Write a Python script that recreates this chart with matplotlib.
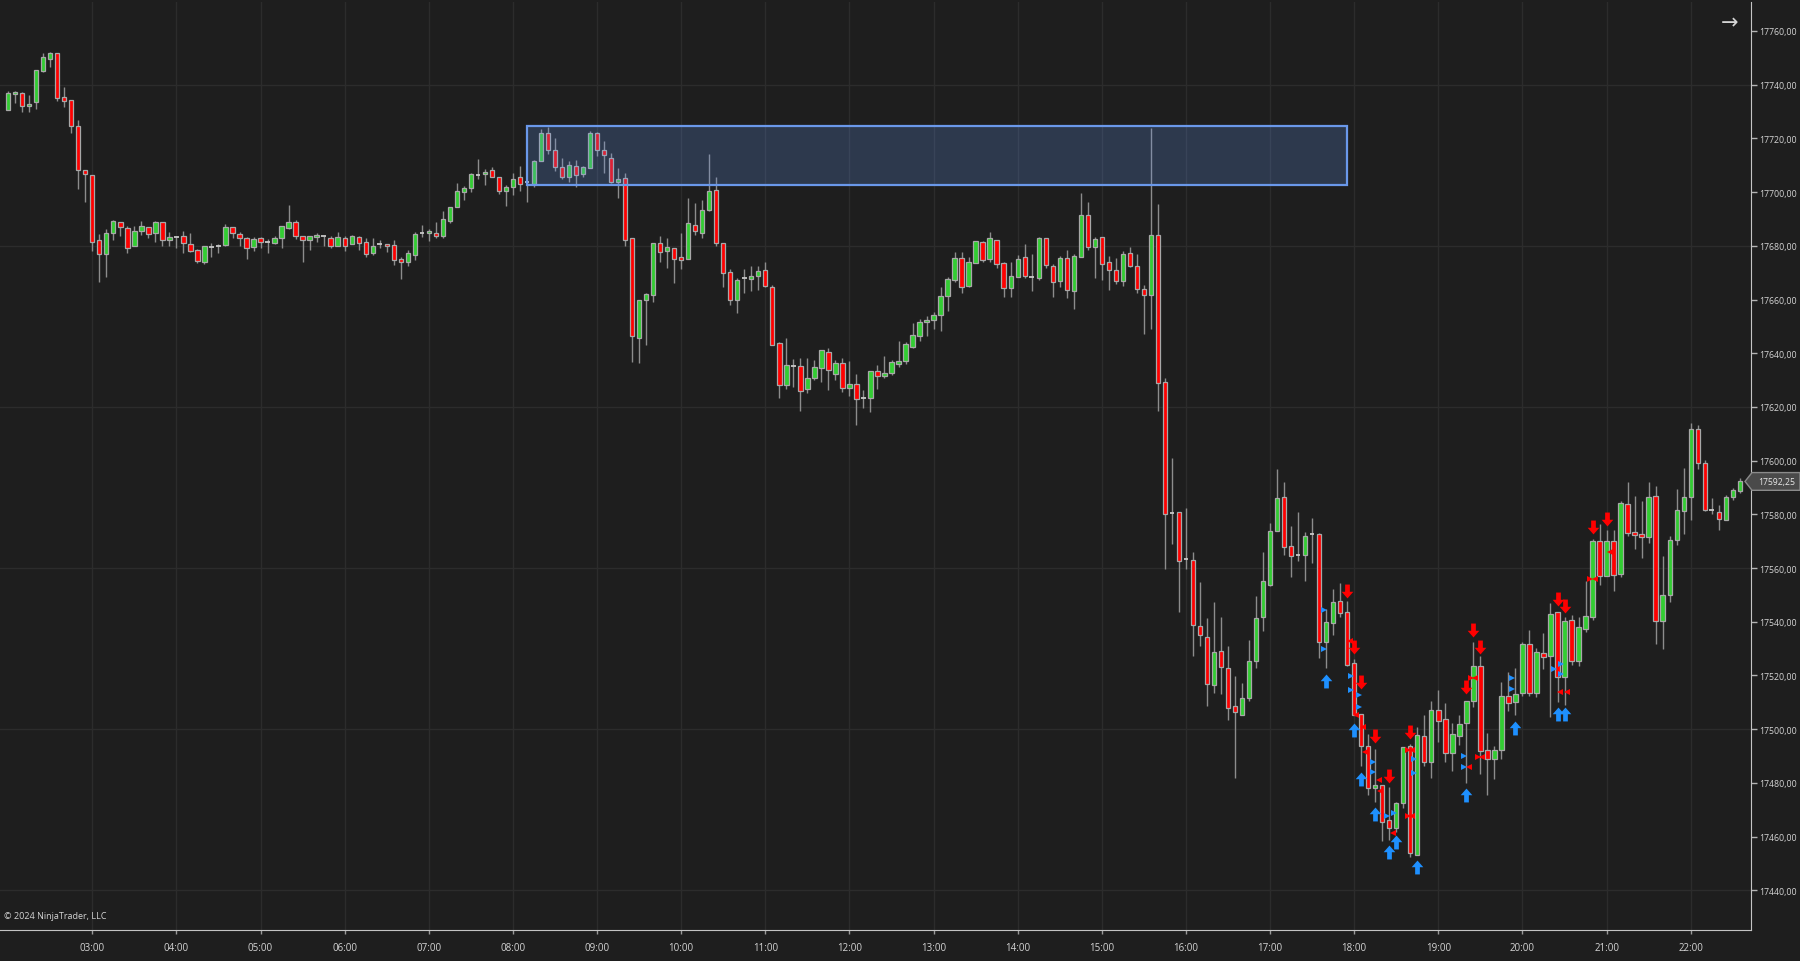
import numpy as np
import matplotlib.pyplot as plt
import matplotlib.transforms as mtransforms
from matplotlib.path import Path
from matplotlib.patches import Rectangle, Polygon

plt.rcParams['font.family'] = ['Open Sans', 'DejaVu Sans']

# 5 minute bars, bar 0 = 02:00
opens = [
    17730.6, 17736.5, 17736.8, 17731.9, 17733.5, 17745.0, 17749.4, 17751.8, 17735.3, 17734.3,
    17724.8, 17708.3, 17706.2, 17682.0, 17677.0, 17684.7, 17688.8, 17686.6, 17679.9, 17685.7,
    17686.9, 17684.7, 17689.0, 17682.0, 17683.2, 17683.6, 17680.7, 17678.5, 17674.1, 17679.7,
    17680.1, 17680.3, 17686.9, 17684.4, 17682.9, 17679.5, 17682.9, 17681.3, 17681.0, 17682.9,
    17686.5, 17689.0, 17683.8, 17682.0, 17683.2, 17683.6, 17683.0, 17680.1, 17682.8, 17680.7,
    17683.4, 17681.3, 17677.2, 17680.7, 17680.7, 17680.3, 17675.1, 17673.9, 17676.6, 17684.7,
    17684.7, 17684.7, 17683.6, 17689.4, 17694.6, 17700.2, 17701.6, 17706.5, 17706.8, 17708.3,
    17705.8, 17700.5, 17701.8, 17705.5, 17703.7, 17703.0, 17711.7, 17721.9, 17715.7, 17709.5,
    17705.8, 17709.6, 17706.8, 17708.9, 17721.9, 17715.7, 17712.7, 17703.7, 17705.2, 17683.0,
    17645.7, 17660.0, 17661.5, 17681.0, 17678.2, 17679.1, 17676.0, 17675.1, 17687.9, 17684.7,
    17693.4, 17700.9, 17681.0, 17670.2, 17660.0, 17668.0, 17667.7, 17668.7, 17671.0, 17664.8,
    17643.7, 17628.0, 17635.2, 17635.2, 17626.5, 17630.7, 17634.4, 17640.6, 17632.3, 17636.4,
    17627.1, 17628.6, 17623.4, 17623.2, 17633.3, 17631.7, 17632.5, 17636.0, 17637.0, 17642.5,
    17646.6, 17651.6, 17652.4, 17654.3, 17661.2, 17667.3, 17675.4, 17665.2, 17673.5, 17681.3,
    17675.1, 17682.3, 17673.6, 17664.3, 17668.5, 17676.0, 17668.3, 17667.9, 17682.8, 17672.6,
    17666.9, 17675.5, 17663.2, 17675.8, 17691.6, 17679.4, 17683.4, 17673.9, 17671.0, 17666.9,
    17677.4, 17672.6, 17664.0, 17661.8, 17683.9, 17629.3, 17580.6, 17581.0, 17563.4, 17562.9,
    17538.3, 17534.5, 17516.5, 17529.0, 17522.8, 17508.5, 17505.4, 17511.5, 17525.3, 17541.7,
    17553.8, 17573.9, 17586.4, 17568.1, 17564.9, 17565.0, 17572.5, 17572.7, 17532.6, 17539.6,
    17547.6, 17543.5, 17524.5, 17505.7, 17493.9, 17478.1, 17479.2, 17466.0, 17463.2, 17472.5,
    17493.9, 17453.3, 17497.6, 17487.7, 17507.3, 17503.6, 17491.0, 17497.6, 17502.3, 17510.4,
    17523.7, 17492.4, 17488.7, 17492.3, 17512.3, 17510.0, 17513.4, 17531.8, 17513.4, 17528.4,
    17527.4, 17543.5, 17519.3, 17540.7, 17525.5, 17537.3, 17541.7, 17570.0, 17557.2, 17570.2,
    17557.6, 17583.9, 17573.3, 17572.7, 17571.7, 17586.7, 17540.1, 17550.0, 17570.6, 17581.2,
    17586.4, 17611.6, 17599.0, 17581.6, 17581.0, 17577.9, 17586.4, 17588.8,
]
highs = [
    17737.8, 17737.8, 17737.2, 17736.0, 17745.5, 17751.7, 17752.1, 17751.8, 17739.1, 17734.3,
    17726.7, 17708.3, 17706.2, 17684.5, 17686.3, 17689.7, 17688.8, 17687.3, 17687.3, 17689.4,
    17686.9, 17689.4, 17689.0, 17685.1, 17683.8, 17685.4, 17684.8, 17678.9, 17679.9, 17681.0,
    17680.7, 17688.2, 17686.9, 17685.1, 17683.2, 17683.4, 17683.4, 17682.6, 17683.8, 17687.5,
    17695.2, 17689.8, 17683.8, 17683.8, 17684.8, 17683.8, 17683.6, 17685.1, 17683.8, 17684.1,
    17683.8, 17682.8, 17682.8, 17682.0, 17680.7, 17682.0, 17675.7, 17678.5, 17685.3, 17687.8,
    17686.1, 17688.8, 17693.1, 17694.4, 17703.4, 17702.2, 17707.2, 17712.4, 17708.6, 17709.3,
    17705.8, 17702.8, 17707.0, 17709.6, 17703.7, 17712.0, 17723.5, 17724.2, 17720.1, 17712.7,
    17711.7, 17712.0, 17709.9, 17722.7, 17722.3, 17719.2, 17714.6, 17709.0, 17707.0, 17683.0,
    17660.0, 17662.5, 17681.0, 17683.6, 17682.8, 17679.1, 17684.7, 17697.8, 17695.9, 17697.1,
    17714.2, 17705.5, 17681.0, 17671.4, 17667.9, 17671.4, 17672.4, 17672.6, 17674.1, 17665.4,
    17644.3, 17645.7, 17637.9, 17638.1, 17638.1, 17637.5, 17641.2, 17641.9, 17637.5, 17638.1,
    17637.0, 17632.3, 17626.4, 17633.2, 17635.8, 17638.9, 17637.5, 17644.5, 17644.0, 17651.2,
    17652.8, 17654.0, 17655.3, 17664.6, 17668.3, 17677.6, 17677.6, 17676.0, 17681.9, 17681.9,
    17685.3, 17682.3, 17674.1, 17674.1, 17676.6, 17680.7, 17676.8, 17683.4, 17682.8, 17673.4,
    17676.1, 17678.5, 17676.9, 17699.5, 17696.5, 17683.1, 17683.4, 17676.1, 17675.3, 17677.9,
    17679.5, 17676.9, 17665.3, 17723.9, 17695.5, 17630.6, 17600.8, 17581.0, 17582.3, 17565.8,
    17554.7, 17541.4, 17547.5, 17541.9, 17530.9, 17519.7, 17517.2, 17533.2, 17549.5, 17566.1,
    17576.8, 17597.0, 17592.0, 17575.6, 17580.8, 17573.6, 17578.5, 17573.0, 17544.8, 17552.2,
    17554.5, 17547.6, 17526.2, 17505.7, 17498.2, 17492.6, 17479.2, 17478.4, 17472.8, 17493.3,
    17494.5, 17500.7, 17505.1, 17510.6, 17514.4, 17509.7, 17502.3, 17505.3, 17510.3, 17532.4,
    17527.1, 17498.5, 17493.9, 17517.5, 17521.4, 17522.7, 17532.6, 17537.0, 17530.1, 17535.8,
    17546.9, 17543.5, 17541.7, 17542.5, 17541.7, 17555.0, 17570.8, 17576.4, 17574.0, 17574.0,
    17584.9, 17592.2, 17586.7, 17585.1, 17592.2, 17590.5, 17564.4, 17572.1, 17589.5, 17597.2,
    17614.0, 17613.3, 17600.4, 17586.1, 17583.3, 17587.3, 17589.8, 17593.6,
]
lows = [
    17730.4, 17733.1, 17730.0, 17730.0, 17731.0, 17744.7, 17746.5, 17734.1, 17731.6, 17721.9,
    17701.2, 17696.3, 17677.9, 17666.5, 17668.3, 17682.0, 17683.8, 17677.3, 17679.9, 17684.1,
    17682.8, 17681.6, 17680.1, 17680.1, 17679.2, 17677.2, 17677.6, 17673.6, 17673.4, 17675.7,
    17677.2, 17679.9, 17682.8, 17680.1, 17675.1, 17678.2, 17679.1, 17677.4, 17680.7, 17679.2,
    17686.3, 17682.6, 17673.9, 17678.6, 17681.3, 17679.8, 17679.2, 17679.8, 17678.2, 17680.5,
    17678.6, 17675.7, 17676.7, 17679.2, 17677.6, 17673.0, 17667.7, 17672.3, 17674.9, 17683.2,
    17681.7, 17683.0, 17682.8, 17688.4, 17694.4, 17697.1, 17700.2, 17704.7, 17702.8, 17705.5,
    17699.3, 17694.7, 17699.1, 17700.3, 17696.5, 17701.8, 17711.7, 17714.2, 17707.8, 17704.9,
    17703.7, 17701.8, 17705.5, 17708.9, 17713.6, 17707.0, 17703.3, 17697.8, 17680.1, 17636.9,
    17636.3, 17642.9, 17659.0, 17674.1, 17671.8, 17666.2, 17671.4, 17675.1, 17684.1, 17682.8,
    17692.8, 17680.1, 17664.8, 17658.1, 17655.0, 17662.5, 17663.1, 17663.6, 17664.6, 17643.1,
    17623.2, 17626.5, 17627.6, 17618.3, 17625.1, 17630.1, 17629.4, 17626.4, 17630.2, 17625.7,
    17623.9, 17613.3, 17619.6, 17618.0, 17626.7, 17630.7, 17631.9, 17634.8, 17636.0, 17642.0,
    17644.7, 17646.6, 17649.1, 17648.1, 17655.9, 17666.7, 17662.5, 17664.6, 17673.5, 17673.9,
    17673.9, 17671.7, 17660.9, 17660.9, 17668.3, 17668.1, 17663.0, 17667.1, 17671.7, 17660.9,
    17664.8, 17660.5, 17656.5, 17675.8, 17678.5, 17668.1, 17667.3, 17663.7, 17665.6, 17665.0,
    17672.1, 17662.4, 17647.2, 17648.9, 17618.5, 17559.7, 17569.0, 17543.5, 17559.7, 17527.4,
    17531.1, 17508.5, 17513.5, 17513.1, 17503.5, 17481.7, 17505.4, 17510.3, 17522.7, 17536.7,
    17553.2, 17573.9, 17564.9, 17556.8, 17562.8, 17555.0, 17561.9, 17526.5, 17522.7, 17534.9,
    17541.7, 17523.7, 17505.1, 17486.4, 17475.5, 17472.8, 17458.2, 17458.9, 17461.6, 17470.6,
    17452.3, 17453.3, 17486.2, 17481.7, 17495.4, 17487.9, 17484.6, 17494.1, 17479.9, 17508.2,
    17483.3, 17475.5, 17481.5, 17488.9, 17506.9, 17505.1, 17512.5, 17512.2, 17511.9, 17522.4,
    17504.7, 17510.0, 17509.0, 17523.9, 17523.4, 17536.1, 17540.7, 17553.5, 17556.9, 17551.6,
    17556.6, 17571.9, 17567.1, 17563.7, 17569.4, 17531.6, 17529.9, 17547.5, 17568.4, 17572.7,
    17577.9, 17596.9, 17581.2, 17580.1, 17574.3, 17577.9, 17585.4, 17587.8,
]
closes = [
    17736.8, 17737.2, 17732.2, 17732.9, 17745.5, 17750.2, 17751.8, 17735.2, 17734.1, 17724.7,
    17708.3, 17706.6, 17681.6, 17677.0, 17684.7, 17689.1, 17687.0, 17679.1, 17685.5, 17687.2,
    17684.5, 17689.0, 17682.0, 17683.2, 17683.2, 17681.0, 17678.2, 17674.5, 17679.9, 17679.7,
    17680.1, 17686.9, 17684.7, 17682.8, 17679.1, 17682.6, 17681.6, 17681.3, 17682.9, 17687.3,
    17689.0, 17683.6, 17682.0, 17683.8, 17684.1, 17683.6, 17680.1, 17683.4, 17680.1, 17683.8,
    17681.1, 17677.0, 17679.8, 17680.7, 17679.8, 17674.9, 17673.9, 17677.2, 17684.4, 17684.7,
    17685.4, 17683.6, 17690.0, 17694.4, 17700.5, 17701.6, 17706.8, 17706.5, 17707.6, 17705.8,
    17700.5, 17702.0, 17704.9, 17703.0, 17703.7, 17711.7, 17721.9, 17715.8, 17709.3, 17705.5,
    17710.1, 17706.4, 17709.3, 17721.9, 17715.5, 17713.9, 17703.7, 17704.9, 17682.0, 17646.3,
    17660.0, 17662.1, 17681.0, 17677.6, 17679.5, 17675.1, 17674.9, 17688.4, 17685.4, 17693.4,
    17700.6, 17681.0, 17669.9, 17660.0, 17667.3, 17668.0, 17668.7, 17670.8, 17665.2, 17643.1,
    17628.2, 17635.8, 17635.2, 17626.1, 17630.8, 17634.8, 17641.2, 17633.6, 17636.3, 17627.1,
    17628.6, 17623.0, 17623.4, 17633.2, 17631.7, 17632.5, 17636.6, 17637.0, 17643.3, 17646.8,
    17651.8, 17652.4, 17654.3, 17661.2, 17667.7, 17675.4, 17664.8, 17673.9, 17681.9, 17674.8,
    17682.9, 17673.3, 17664.3, 17668.7, 17675.1, 17668.9, 17668.3, 17682.9, 17672.9, 17666.4,
    17675.3, 17663.7, 17676.3, 17691.6, 17679.5, 17682.6, 17673.4, 17671.0, 17666.9, 17676.9,
    17672.6, 17664.0, 17661.6, 17683.9, 17629.0, 17580.3, 17580.6, 17562.6, 17563.4, 17538.7,
    17535.1, 17516.9, 17528.9, 17523.1, 17507.9, 17506.3, 17511.5, 17525.3, 17541.4, 17555.1,
    17573.7, 17586.0, 17567.7, 17564.6, 17564.9, 17571.8, 17572.5, 17532.4, 17539.8, 17547.3,
    17543.3, 17524.0, 17505.4, 17493.9, 17478.1, 17479.2, 17465.3, 17463.2, 17472.4, 17493.3,
    17453.8, 17498.0, 17487.7, 17507.3, 17502.9, 17491.2, 17498.2, 17501.9, 17510.3, 17523.7,
    17492.0, 17488.7, 17492.3, 17512.3, 17509.8, 17513.1, 17531.8, 17513.4, 17528.6, 17527.0,
    17542.7, 17519.3, 17540.4, 17525.2, 17538.0, 17542.1, 17570.2, 17556.9, 17570.0, 17557.4,
    17584.1, 17573.1, 17572.3, 17571.7, 17586.4, 17540.1, 17550.0, 17570.6, 17581.6, 17586.4,
    17611.6, 17599.1, 17581.8, 17581.6, 17578.3, 17586.4, 17589.2, 17592.25,
]

hour_bars = list(range(12, 241, 12))
hour_labels = ['03:00', '04:00', '05:00', '06:00', '07:00', '08:00', '09:00', '10:00',
               '11:00', '12:00', '13:00', '14:00', '15:00', '16:00', '17:00', '18:00',
               '19:00', '20:00', '21:00', '22:00']
price_ticks = list(range(17440, 17761, 20))
grid_prices = [17440, 17500, 17560, 17620, 17680, 17740]

# drawn zone
zone_bars = [74, 191]
zone_prices = [17702.5, 17724.6]

# signal markers
buy_arrow_bars = [188, 192, 193, 195, 197, 198, 201, 208, 215, 221, 222]
buy_arrow_prices = [17518.1, 17499.5, 17481.5, 17468.4, 17454.2, 17457.9, 17448.6,
                    17475.3, 17500.6, 17505.6, 17505.6]
sell_arrow_bars = [191, 192, 193, 195, 197, 200, 208, 209, 210, 221, 222, 226, 228]
sell_arrow_prices = [17551.6, 17530.5, 17517.5, 17497.4, 17482.7, 17498.9, 17515.6,
                     17537.1, 17530.5, 17548.3, 17546.0, 17575.2, 17578.4]
blue_tri_bars = [187.67, 187.67, 191.57, 191.57, 192.71, 192.71, 194.67, 194.67, 196.67,
                 197.62, 200.57, 200.57, 207.62, 207.62, 214.57, 214.57, 220.52, 221.52, 221.52]
blue_tri_prices = [17544.5, 17529.9, 17519.9, 17514.4, 17512.8, 17508.2, 17487.9, 17484.0,
                   17467.8, 17468.7, 17488.7, 17483.7, 17489.9, 17485.8, 17519.0, 17515.0,
                   17522.4, 17524.3, 17520.6]
red_ltri_bars = [191.43, 192.29, 193.24, 193.48, 195.48, 195.62, 197.48, 200.24, 200.24,
                 208.33, 209.29, 210.24, 221.38, 222.33, 226.33, 228.52]
red_ltri_prices = [17533.0, 17505.1, 17500.7, 17491.6, 17480.9, 17476.8, 17461.2, 17492.3,
                   17467.8, 17485.8, 17518.9, 17489.6, 17514.0, 17514.0, 17555.9, 17565.9]
red_rtri_bars = [199.67, 199.67, 208.71, 209.67, 225.67]
red_rtri_prices = [17492.3, 17467.8, 17518.9, 17489.6, 17555.9]

last_price = 17592.25

BG = '#1e1e1e'
GRID = '#2c2c2c'
GREEN = '#32cd32'
RED = '#ff0000'
EDGE = '#a8a8a8'
WICK = '#8c8c8c'
TXT = '#d4d4d4'

fig = plt.figure(figsize=(18, 9.62), dpi=100, facecolor=BG)
ax = fig.add_axes([0, 31 / 962, 1751 / 1800, 928 / 962])
ax.set_facecolor(BG)

o = np.array(opens)
h = np.array(highs)
l = np.array(lows)
c = np.array(closes)
x = np.arange(len(o))
up = c > o
dn = c < o
flat = c == o

for b in hour_bars:
    ax.axvline(b, color=GRID, lw=1, zorder=0)
for p in grid_prices:
    ax.axhline(p, color=GRID, lw=1, zorder=0)

ax.vlines(x, l, h, color=WICK, lw=1, zorder=3)
ax.bar(x[up], (c - o)[up], bottom=o[up], width=0.62, color=GREEN,
       edgecolor=EDGE, linewidth=0.9, zorder=4)
ax.bar(x[dn], (o - c)[dn], bottom=c[dn], width=0.62, color=RED,
       edgecolor=EDGE, linewidth=0.9, zorder=4)
ax.hlines(c[flat], x[flat] - 0.32, x[flat] + 0.32, color='#c8c8c8', lw=1.3, zorder=4)

zone = Rectangle((zone_bars[0], zone_prices[0]), zone_bars[1] - zone_bars[0],
                 zone_prices[1] - zone_prices[0], facecolor=(0.39, 0.58, 0.93, 0.23),
                 edgecolor='#6a98ea', linewidth=1.6, zorder=5)
ax.add_patch(zone)

up_arrow = Path([(-0.17, -0.5), (0.17, -0.5), (0.17, 0.02), (0.42, 0.02), (0, 0.5),
                 (-0.42, 0.02), (-0.17, 0.02), (-0.17, -0.5)], closed=True)
down_arrow = Path([(vx, -vy) for vx, vy in up_arrow.vertices], closed=True)

ax.plot(buy_arrow_bars, buy_arrow_prices, linestyle='', marker=up_arrow, markersize=10,
        color='#1e90ff', markeredgewidth=0, zorder=6)
ax.plot(sell_arrow_bars, sell_arrow_prices, linestyle='', marker=down_arrow, markersize=10,
        color=RED, markeredgewidth=0, zorder=6)
ax.plot(blue_tri_bars, blue_tri_prices, linestyle='', marker='>', markersize=4.5,
        color='#1e90ff', markeredgewidth=0, zorder=6)
ax.plot(red_ltri_bars, red_ltri_prices, linestyle='', marker='<', markersize=4.5,
        color=RED, markeredgewidth=0, zorder=6)
ax.plot(red_rtri_bars, red_rtri_prices, linestyle='', marker='>', markersize=4.5,
        color=RED, markeredgewidth=0, zorder=6)

ax.set_xlim(-1.165, 248.6)
ax.set_ylim(17425.2, 17770.8)

ax.set_xticks(hour_bars)
ax.set_xticklabels(hour_labels)
ax.set_yticks(price_ticks)
ax.set_yticklabels([f'{p:.2f}'.replace('.', ',') for p in price_ticks])
ax.yaxis.tick_right()
ax.tick_params(axis='y', length=4, width=1, color='#b4b4b4', pad=1.6,
               labelsize=6.3, labelcolor=TXT)
ax.tick_params(axis='x', length=3, width=1, color='#9a9a9a', pad=6,
               labelsize=7, labelcolor=TXT)

for side in ['left', 'top']:
    ax.spines[side].set_visible(False)
ax.spines['right'].set_color('#c4c4c4')
ax.spines['bottom'].set_color('#c4c4c4')

# last price tag on the price axis
tag_tr = mtransforms.blended_transform_factory(fig.transFigure, ax.transData)
hh = 3.3
tag = Polygon([(1745 / 1800, last_price), (1752 / 1800, last_price + hh), (1.0, last_price + hh),
               (1.0, last_price - hh), (1752 / 1800, last_price - hh)], closed=True,
              transform=tag_tr, facecolor='#4a4a4a', edgecolor='#8a8a8a', lw=1,
              clip_on=False, zorder=10)
fig.patches.append(tag)
fig.text(1777 / 1800, last_price, f'{last_price:.2f}'.replace('.', ','), transform=tag_tr,
         ha='center', va='center', fontsize=6.2, color='#e8e8e8', zorder=11)

fig.text(1729.5 / 1800, 1 - 23 / 962, '→', ha='center', va='center', fontsize=15,
         color=TXT, family=['DejaVu Sans'])
fig.text(4 / 1800, 1 - 917 / 962, '© 2024 NinjaTrader, LLC', ha='left', va='center',
         fontsize=6.5, color=TXT)

fig.savefig('out.png', dpi=100, facecolor=BG)
